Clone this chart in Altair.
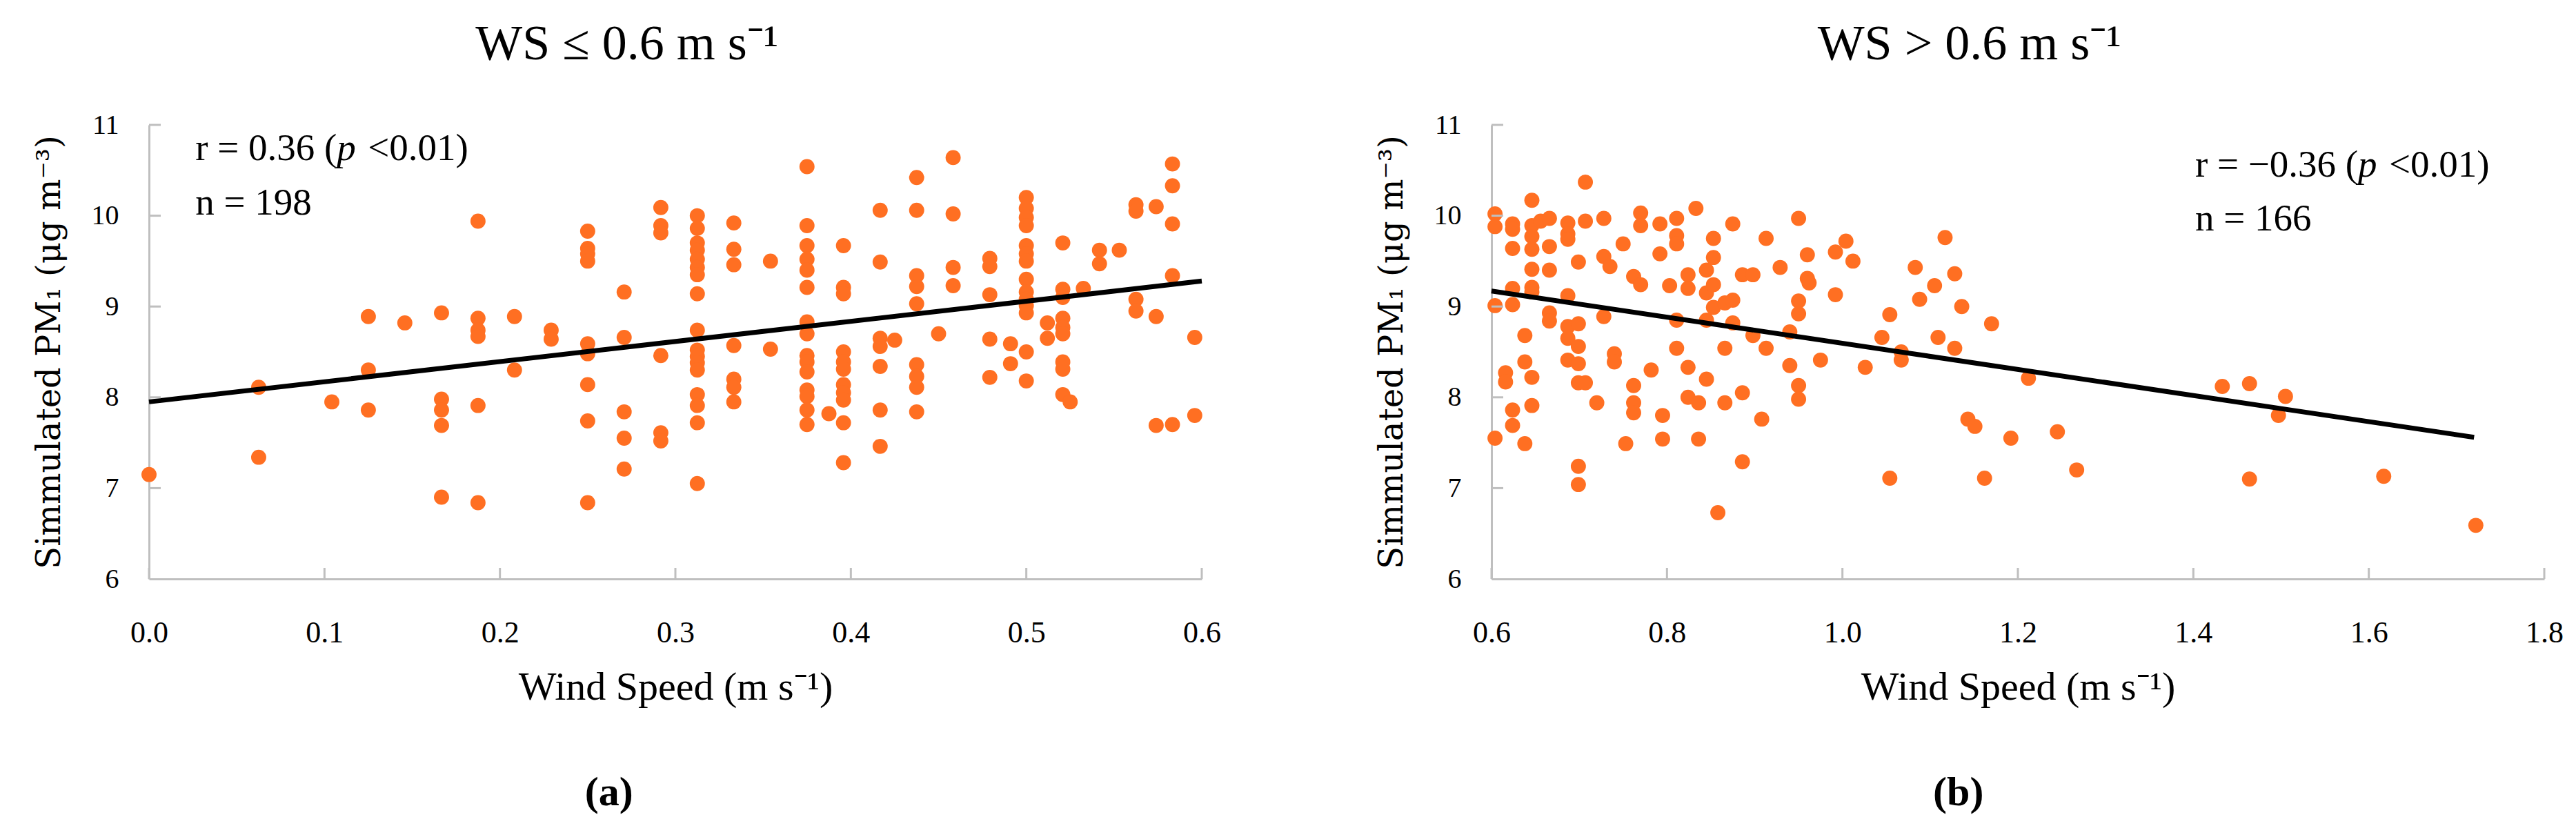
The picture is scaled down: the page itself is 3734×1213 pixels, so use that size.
import altair as alt
import pandas as pd

SERIF = "Liberation Serif"
WIDE = "DejaVu Serif"
ORANGE = "#FF6F22"
GRAY = "#BFBFBF"

# ---------------- panel (a): WS <= 0.6 ----------------
a_ws = [0.0, 0.0625, 0.1042, 0.125, 0.1458, 0.1667, 0.1875, 0.2083, 0.2292,
        0.25, 0.2708, 0.2917, 0.3125, 0.3333, 0.3542, 0.375, 0.3875, 0.3958,
        0.4167, 0.425, 0.4375, 0.45, 0.4583, 0.4792, 0.491, 0.5, 0.512,
        0.5208, 0.525, 0.5325, 0.5417, 0.553, 0.5625, 0.574, 0.5833, 0.596]
a_pm = [
    [7.15],
    [8.11, 7.34],
    [7.95],
    [8.89, 8.30, 7.86],
    [8.82],
    [8.93, 7.98, 7.86, 7.69, 6.90],
    [9.94, 8.87, 8.74, 8.67, 7.91, 6.84],
    [8.89, 8.30],
    [8.74, 8.64],
    [9.83, 9.64, 9.58, 9.50, 8.59, 8.48, 8.14, 7.74, 6.84],
    [9.16, 8.66, 7.84, 7.55, 7.21],
    [10.09, 9.89, 9.81, 8.46, 7.61, 7.52],
    [10.00, 9.86, 9.70, 9.62, 9.52, 9.43, 9.35, 9.14, 8.74, 8.52, 8.45, 8.38, 8.30, 8.03, 7.91, 7.72, 7.05],
    [9.92, 9.63, 9.46, 8.57, 8.20, 8.11, 7.95],
    [9.50, 8.53],
    [10.54, 9.89, 9.67, 9.52, 9.40, 9.21, 8.83, 8.70, 8.46, 8.39, 8.28, 8.08, 8.01, 7.86, 7.70],
    [7.82],
    [9.67, 9.21, 9.14, 8.50, 8.39, 8.31, 8.14, 8.05, 7.97, 7.72, 7.28],
    [10.06, 9.49, 8.65, 8.56, 8.34, 7.86, 7.46],
    [8.63],
    [10.42, 10.06, 9.34, 9.22, 9.03, 8.36, 8.23, 8.11, 7.84],
    [8.70],
    [10.64, 10.02, 9.43, 9.23],
    [9.53, 9.44, 9.13, 8.64, 8.22],
    [8.59, 8.37],
    [10.20, 10.08, 9.98, 9.89, 9.67, 9.58, 9.50, 9.30, 9.16, 9.08, 9.01, 8.93, 8.50, 8.18],
    [8.82, 8.65],
    [9.70, 9.19, 9.10, 8.87, 8.77, 8.70, 8.39, 8.31, 8.03],
    [7.95],
    [9.20],
    [9.62, 9.47],
    [9.62],
    [10.12, 10.05, 9.08, 8.95],
    [10.10, 8.89, 7.69],
    [10.57, 10.33, 9.91, 9.34, 7.70],
    [8.66, 7.80],
]
a_fit_ws = [0.0, 0.6]
a_fit_pm = [7.95, 9.28]

# ---------------- panel (b): WS > 0.6 ----------------
b_ws = [0.604, 0.616, 0.624, 0.638, 0.646, 0.656, 0.666, 0.687, 0.699, 0.707,
        0.720, 0.728, 0.735, 0.740, 0.750, 0.753, 0.762, 0.770, 0.782, 0.792,
        0.795, 0.803, 0.811, 0.824, 0.833, 0.836, 0.845, 0.853, 0.858, 0.866,
        0.875, 0.886, 0.898, 0.908, 0.913, 0.929, 0.940, 0.950, 0.960, 0.962,
        0.975, 0.992, 1.004, 1.012, 1.026, 1.045, 1.054, 1.067, 1.083, 1.088,
        1.105, 1.109, 1.117, 1.128, 1.136, 1.143, 1.151, 1.162, 1.170, 1.192,
        1.212, 1.245, 1.267, 1.433, 1.464, 1.497, 1.505, 1.617, 1.722]
b_pm = [
    [10.02, 9.88, 9.01, 7.55],
    [8.27, 8.17],
    [9.91, 9.85, 9.64, 9.20, 9.02, 7.86, 7.69],
    [8.68, 8.39, 7.49],
    [10.17, 9.89, 9.77, 9.63, 9.41, 9.21, 9.16, 8.22, 7.91],
    [9.94],
    [9.97, 9.66, 9.40, 8.93, 8.84],
    [9.92, 9.80, 9.74, 9.12, 8.78, 8.65, 8.41],
    [9.49, 8.81, 8.56, 8.37, 8.16, 7.24, 7.04],
    [10.37, 9.94, 8.16],
    [7.94],
    [9.97, 9.55, 8.89],
    [9.44],
    [8.48, 8.39],
    [9.69],
    [7.49],
    [9.33, 8.13, 7.94, 7.83],
    [10.03, 9.89, 9.24],
    [8.30],
    [9.91, 9.58],
    [7.80, 7.54],
    [9.23],
    [9.97, 9.78, 9.69, 8.85, 8.54],
    [9.35, 9.20, 8.33, 8.00],
    [10.08],
    [7.94, 7.54],
    [9.40, 9.15, 8.85, 8.20],
    [9.75, 9.54, 9.24, 8.99],
    [6.73],
    [9.04, 8.54, 7.94],
    [9.91, 9.07, 8.82],
    [9.35, 8.05, 7.29],
    [9.35, 8.68],
    [7.76],
    [9.75, 8.54],
    [9.43],
    [8.72, 8.35],
    [9.97, 9.06, 8.92, 8.13, 7.98],
    [9.57, 9.31],
    [9.26],
    [8.41],
    [9.60, 9.13],
    [9.72],
    [9.50],
    [8.33],
    [8.66],
    [8.91, 7.11],
    [8.50, 8.41],
    [9.43],
    [9.08],
    [9.23],
    [8.66],
    [9.76],
    [9.36, 8.54],
    [9.00],
    [7.76],
    [7.68],
    [7.11],
    [8.81],
    [7.55],
    [8.21],
    [7.62],
    [7.20],
    [8.12],
    [8.15, 7.10],
    [7.80],
    [8.01],
    [7.13],
    [6.59],
]
b_fit_ws = [0.6, 1.72]
b_fit_pm = [9.17, 7.56]

a_xticks = [0.0, 0.1, 0.2, 0.3, 0.4, 0.5, 0.6]
b_xticks = [0.6, 0.8, 1.0, 1.2, 1.4, 1.6, 1.8]
y_ticks = [6, 7, 8, 9, 10, 11]
y_inner_ticks = [7, 8, 9, 10, 11]

a_title = "WS ≤ 0.6 m s⁻¹"
b_title = "WS > 0.6 m s⁻¹"
a_stat = ["r = 0.36 (", "p", "<0.01)", "n = 198"]
b_stat = ["r = −0.36 (", "p", "<0.01)", "n = 166"]
a_stat_pos = [0.0264, 10.61, 10.01]   # x, r-line baseline, n-line baseline
b_stat_pos = [1.402, 10.43, 9.84]
a_stat_dx = [0, 205, 250]
b_stat_dx = [0, 236, 281]

W, H = 1526, 658


def panel(ws, pm, fit_ws, fit_pm, xdom, xticks, title, stat, pos, sdx, caption, cap_dx):
    pts = pd.DataFrame([(c, v) for c, vs in zip(ws, pm) for v in vs], columns=["ws", "pm"])
    fit = pd.DataFrame({"ws": fit_ws, "pm": fit_pm})

    X = alt.X("ws:Q",
              scale=alt.Scale(domain=xdom, nice=False, zero=False),
              axis=alt.Axis(values=xticks, format=".1f", title="Wind Speed (m s⁻¹)",
                            labelFont=SERIF, labelFontSize=44, labelColor="black",
                            labelPadding=56, labelFlush=False,
                            titleFont=SERIF, titleFontSize=58, titleFontWeight="normal",
                            titleColor="black", titlePadding=28,
                            ticks=False, grid=False, domainColor=GRAY, domainWidth=3))
    Y = alt.Y("pm:Q",
              scale=alt.Scale(domain=[6, 11], nice=False, zero=False),
              axis=alt.Axis(values=y_ticks, format="d", title="Simmulated PM₁ (μg m⁻³)",
                            labelFont=SERIF, labelFontSize=40, labelColor="black",
                            labelPadding=44,
                            titleFont=WIDE, titleFontSize=48, titleFontWeight="normal",
                            titleColor="black", titlePadding=36,
                            ticks=False, grid=False, domainColor=GRAY, domainWidth=3))

    points = alt.Chart(pts).mark_circle(size=480, color=ORANGE, opacity=1).encode(x=X, y=Y)
    line = alt.Chart(fit).mark_line(color="black", strokeWidth=7).encode(x=X, y=Y)

    xt = alt.Chart(pd.DataFrame({"ws": xticks})).mark_rule(color=GRAY, strokeWidth=3).encode(
        x=X, y=alt.value(H), y2=alt.value(H - 16))
    yt = alt.Chart(pd.DataFrame({"pm": y_inner_ticks})).mark_rule(color=GRAY, strokeWidth=3).encode(
        y=Y, x=alt.value(0), x2=alt.value(17))

    r_df = pd.DataFrame({"ws": [pos[0]], "pm": [pos[1]]})
    n_df = pd.DataFrame({"ws": [pos[0]], "pm": [pos[2]]})
    txt = dict(font=SERIF, fontSize=55, color="black", align="left", baseline="alphabetic")
    t1 = alt.Chart(r_df).mark_text(text=stat[0], dx=sdx[0], **txt).encode(x=X, y=Y)
    t2 = alt.Chart(r_df).mark_text(text=stat[1], dx=sdx[1], fontStyle="italic", **txt).encode(x=X, y=Y)
    t3 = alt.Chart(r_df).mark_text(text=stat[2], dx=sdx[2], **txt).encode(x=X, y=Y)
    t4 = alt.Chart(n_df).mark_text(text=stat[3], **txt).encode(x=X, y=Y)

    layered = alt.layer(points, line, xt, yt, t1, t2, t3, t4).properties(
        width=W, height=H,
        title=alt.TitleParams(title, font=SERIF, fontSize=72, fontWeight="normal",
                              color="black", anchor="middle", frame="bounds", offset=60))
    return alt.vconcat(layered, title=alt.TitleParams(
        caption, orient="bottom", font=SERIF, fontSize=60, fontWeight="bold",
        color="black", anchor="middle", frame="bounds", offset=95, dx=cap_dx))


left = panel(a_ws, a_pm, a_fit_ws, a_fit_pm, [0.0, 0.6], a_xticks, a_title,
             a_stat, a_stat_pos, a_stat_dx, "(a)", -26)
right = panel(b_ws, b_pm, b_fit_ws, b_fit_pm, [0.6, 1.8], b_xticks, b_title,
              b_stat, b_stat_pos, b_stat_dx, "(b)", -16)

chart = alt.hconcat(left, right, spacing=224).properties(
    padding={"left": 40, "top": 20, "right": 5, "bottom": 5},
    background="white",
).configure_view(stroke=None)

chart.save("out.html", embed_options={"renderer": "svg", "actions": False})
